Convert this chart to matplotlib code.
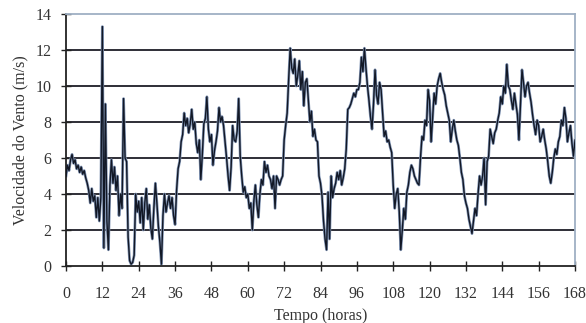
import matplotlib
matplotlib.use("Agg")
import matplotlib.pyplot as plt
import numpy as np

# wind speed, half-hour steps from 0 h to 168 h
v_00_12 = [5.0, 5.6, 5.3, 5.9, 6.2, 5.7, 5.9, 5.4, 5.6, 5.2, 5.5, 5.1, 5.3, 4.9, 4.6, 4.2,
           3.5, 4.3, 3.6, 3.9, 2.7, 3.8, 2.5, 3.8]
v_12_24 = [13.3, 1.0, 9.0, 2.5, 0.9, 4.5, 5.9, 4.6, 5.5, 4.2, 5.0, 2.8, 4.0, 3.2, 9.3, 6.0,
           5.8, 1.6, 0.3, 0.1, 0.2, 0.6, 4.0, 3.0]
v_24_36 = [3.6, 2.4, 3.8, 2.0, 3.5, 4.3, 2.6, 3.4, 2.1, 1.5, 3.2, 4.6, 3.5, 2.2, 1.3, 0.1,
           2.8, 4.0, 3.0, 3.5, 3.9, 3.2, 3.8, 2.8]
v_36_48 = [2.3, 4.2, 5.4, 5.8, 6.9, 7.3, 8.5, 7.8, 8.2, 7.4, 7.9, 8.7, 7.6, 8.0, 6.8, 6.3,
           7.0, 4.8, 6.2, 7.9, 8.2, 9.4, 7.6, 6.9]
v_48_60 = [7.3, 5.6, 6.4, 6.9, 7.5, 8.8, 8.0, 8.3, 7.8, 6.9, 6.0, 5.0, 4.2, 5.5, 7.8, 7.0,
           6.9, 7.5, 9.3, 6.1, 5.0, 4.1, 4.4, 3.8]
v_60_72 = [4.0, 3.2, 3.5, 2.0, 3.6, 4.5, 3.4, 2.7, 4.0, 4.8, 4.5, 5.8, 5.2, 5.6, 5.0, 4.8,
           4.3, 5.0, 3.2, 5.0, 4.8, 4.5, 4.8, 5.0]
v_72_84 = [7.0, 7.8, 8.5, 10.4, 12.1, 11.0, 10.7, 11.5, 10.0, 10.6, 11.4, 9.8, 10.8, 8.9,
           10.2, 10.4, 9.2, 8.0, 8.6, 7.2, 7.6, 7.0, 6.9, 5.0]
v_84_96 = [4.6, 3.9, 2.5, 1.5, 0.9, 4.1, 1.5, 5.0, 3.8, 4.3, 4.6, 5.2, 4.8, 5.3, 4.5, 4.9,
           5.4, 6.5, 8.7, 8.8, 9.0, 9.3, 9.6, 9.4]
v_96_108 = [9.8, 9.8, 10.2, 11.6, 10.8, 12.1, 11.0, 10.0, 9.2, 8.3, 7.6, 9.0, 10.9, 9.5,
            9.0, 10.2, 9.8, 8.5, 7.2, 7.5, 6.9, 7.0, 6.6, 6.3]
v_108_120 = [4.5, 3.2, 4.0, 4.3, 3.0, 0.9, 2.0, 3.2, 2.6, 4.1, 4.5, 5.2, 5.6, 5.4, 5.0, 4.8,
             4.6, 4.5, 6.0, 7.2, 7.0, 8.1, 7.8, 9.8]
v_120_132 = [9.2, 6.9, 8.2, 9.6, 9.0, 10.0, 10.4, 10.7, 10.2, 9.8, 9.5, 8.9, 8.5, 8.1, 6.9,
             7.6, 8.1, 7.5, 7.0, 6.7, 6.0, 5.2, 4.8, 3.9]
v_132_144 = [3.5, 3.2, 2.6, 2.2, 1.8, 2.5, 3.2, 2.8, 4.0, 5.0, 4.5, 5.0, 6.0, 3.4, 5.8, 6.1,
             7.6, 7.2, 6.8, 7.4, 7.6, 8.1, 8.5, 9.4]
v_144_156 = [9.0, 10.0, 9.6, 11.2, 10.0, 9.8, 9.2, 8.7, 9.6, 9.0, 8.4, 7.0, 8.9, 10.9, 10.2,
             9.4, 10.0, 10.2, 9.6, 9.1, 8.4, 7.8, 7.3, 8.1]
v_156_168 = [7.8, 6.9, 7.2, 7.6, 7.0, 6.5, 5.8, 5.0, 4.6, 5.2, 6.0, 6.5, 6.2, 6.9, 7.2, 8.1,
             7.8, 8.8, 8.2, 6.9, 7.4, 7.8, 6.8, 6.1, 7.0]

speed = (v_00_12 + v_12_24 + v_24_36 + v_36_48 + v_48_60 + v_60_72 + v_72_84 + v_84_96
         + v_96_108 + v_108_120 + v_120_132 + v_132_144 + v_144_156 + v_156_168)
hours = np.arange(len(speed)) * 0.5

x_ticks = list(range(0, 169, 12))
y_ticks = list(range(0, 15, 2))

plt.rcParams['font.family'] = ['Liberation Serif', 'DejaVu Serif']

fig = plt.figure(figsize=(5.86, 3.23), dpi=100)
ax = fig.add_axes([66/586, 57/323, 509/586, 252/323])

for yv in y_ticks[1:-1]:
    ax.axhline(yv, color='#1e1e26', lw=1.3, zorder=1)

ax.plot(hours, speed, color='#8396b5', lw=2.0, zorder=2, solid_joinstyle='round')
ax.plot(hours, speed, color='#121826', lw=1.0, zorder=3, solid_joinstyle='round')

ax.set_xlim(0, 168)
ax.set_ylim(0, 14)
ax.set_xticks(x_ticks)
ax.set_yticks(y_ticks)
ax.tick_params(axis='both', direction='inout', length=7, width=1.0, color='#222222',
               labelsize=11.5, labelcolor='#333333')
ax.tick_params(axis='x', pad=11)
ax.tick_params(axis='y', pad=7)

for s in ['left', 'bottom']:
    ax.spines[s].set_color('#222222')
    ax.spines[s].set_linewidth(1.3)
for s in ['top', 'right']:
    ax.spines[s].set_color('#9fb0c4')
    ax.spines[s].set_linewidth(1.3)

ax.set_xlabel('Tempo (horas)', fontsize=11.5, color='#333333', labelpad=4)
ax.set_ylabel('Velocidade do Vento (m/s)', fontsize=11.5, color='#333333', labelpad=5)

fig.savefig('out.png', dpi=100)
